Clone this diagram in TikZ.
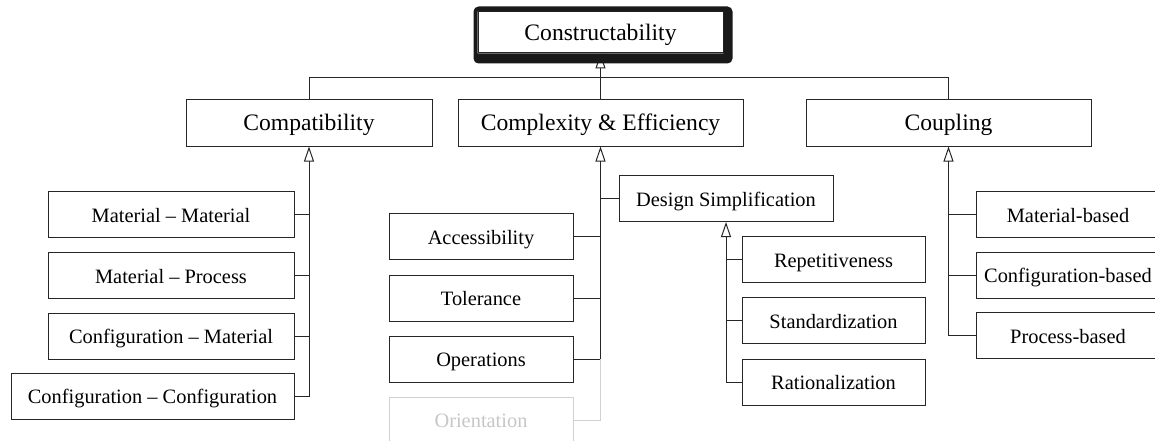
\documentclass[tikz,border=0pt]{standalone}
\usepackage{fontspec}
\setmainfont{Liberation Serif}
\usetikzlibrary{arrows.meta}
\tikzset{>={Triangle[open,length=15pt,width=10pt]},wire/.style={line width=1pt,draw=black!85},gen/.style={wire,->},
box/.style={wire,fill=white,inner sep=0pt,font=\fontsize{20.4}{24}\selectfont,text height=19pt,text depth=4pt,minimum height=46pt},
head/.style={box,font=\fontsize{23.6}{28}\selectfont,text height=20pt,text depth=4.4pt},faded/.style={draw=black!18,text=black!22}}

\begin{document}
\begin{tikzpicture}[x=1pt,y=-1pt]
\useasboundingbox (0,0) rectangle (1155,441);\clip (0,0) rectangle (1155,441);
\node[head,minimum width=245pt,minimum height=41pt] (con) at (600.5,32.5){Constructability};
\node[head,minimum width=246pt] (compat) at (309,123){Compatibility};
\node[head,minimum width=285pt] (cplx) at (600.5,123){Complexity \& Efficiency};
\node[head,minimum width=285pt] (coup) at (948.5,123){Coupling};
\foreach \n/\y/\t in {mm/214.5/Material -- Material,mp/275.5/Material -- Process,cm/336/Configuration -- Material}{\node[box,minimum width=246pt] (\n) at (171,\y){\t};}
\node[box,minimum width=283pt] (cc) at (152.5,396){Configuration -- Configuration};
\foreach \n/\y/\t in {acc/236.5/Accessibility,tol/298/Tolerance,ops/359/Operations}{\node[box,minimum width=184pt] (\n) at (481,\y){\t};}
\node[box,faded,minimum width=184pt] (ori) at (481,420){Orientation};
\node[box,minimum width=214pt] (ds) at (726,198.5){Design Simplification};
\foreach \n/\y/\t in {rep/259.5/Repetitiveness,std/320.5/Standardization,rat/382/Rationalization}{\node[box,minimum width=183pt] (\n) at (833.5,\y){\t};}
\foreach \n/\y/\t in {mb/214.5/Material-based,cb/275/Configuration-based,pb/335.5/Process-based}{\node[box,minimum width=184pt] (\n) at (1068,\y){\t};}
% top level
\coordinate (bus) at (600.5,77.5);
\draw[wire] (compat.north) |- (bus) -| (coup.north);\draw[gen] (cplx.north) -- (con.south);
\fill[black!90,even odd rule,rounded corners=5pt] ([shift={(-4,-5)}]con.north west) rectangle ([shift={(9,10)}]con.south east) [sharp corners] (con.north west) rectangle (con.south east);
% branches
\foreach \n in {mm,mp,cm}{\draw[wire] (\n.east) -- (\n.east -| compat.south);}
\draw[gen] (cc.east) -| (compat.south);
\foreach \n in {acc,tol}{\draw[wire] (\n.east) -- (\n.east -| cplx.south);}
\draw[gen] (ops.east) -| (cplx.south);\draw[wire] (ds.west) -- (ds.west -| cplx.south);
\draw[wire,faded] (ori.east) -| (ops.east -| cplx.south);
\foreach \n in {rep,std}{\draw[wire] (\n.west) -- (\n.west -| ds.south);}
\draw[gen] (rat.west) -| (ds.south);
\foreach \n in {mb,cb}{\draw[wire] (\n.west) -- (\n.west -| coup.south);}
\draw[gen] (pb.west) -| (coup.south);
\end{tikzpicture}
\end{document}
